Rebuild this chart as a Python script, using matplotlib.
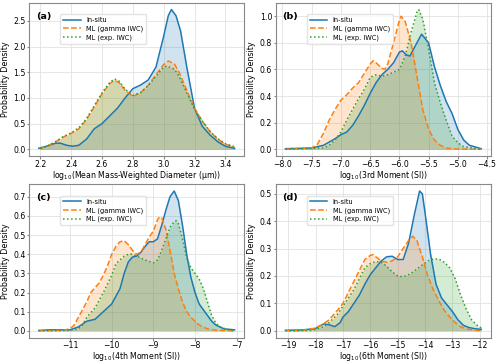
import numpy as np
import matplotlib
matplotlib.use("Agg")
from matplotlib import pyplot as plt

# ---- values (x, density) ----
# (a) mean mass-weighted diameter
a_insitu_x = [2.19, 2.25, 2.3, 2.33, 2.37, 2.41, 2.45, 2.5, 2.55, 2.6, 2.65, 2.7, 2.75, 2.8, 2.85, 2.9,
              2.95, 3.0, 3.03, 3.05, 3.08, 3.11, 3.15, 3.2, 3.25, 3.3, 3.35, 3.4, 3.46]
a_insitu_y = [0.02, 0.07, 0.12, 0.12, 0.08, 0.06, 0.08, 0.2, 0.4, 0.5, 0.65, 0.8, 1.0, 1.18, 1.25, 1.35,
              1.6, 2.2, 2.6, 2.72, 2.6, 2.3, 1.6, 0.8, 0.45, 0.28, 0.15, 0.06, 0.02]
a_gamma_x = [2.2, 2.25, 2.3, 2.35, 2.4, 2.45, 2.5, 2.55, 2.6, 2.65, 2.68, 2.71, 2.75, 2.8, 2.85, 2.9,
             2.95, 3.0, 3.03, 3.07, 3.1, 3.15, 3.2, 3.25, 3.3, 3.35, 3.4, 3.46]
a_gamma_y = [0.01, 0.07, 0.15, 0.24, 0.31, 0.4, 0.58, 0.83, 1.08, 1.28, 1.34, 1.3, 1.15, 1.03, 1.1, 1.25,
             1.45, 1.65, 1.72, 1.66, 1.5, 1.15, 0.8, 0.55, 0.35, 0.2, 0.1, 0.04]
a_exp_x = [2.2, 2.25, 2.3, 2.35, 2.4, 2.45, 2.5, 2.55, 2.6, 2.65, 2.68, 2.71, 2.75, 2.8, 2.85, 2.9,
           2.95, 3.0, 3.02, 3.07, 3.1, 3.15, 3.2, 3.25, 3.3, 3.35, 3.4, 3.46]
a_exp_y = [0.01, 0.07, 0.15, 0.25, 0.32, 0.42, 0.6, 0.85, 1.1, 1.3, 1.37, 1.33, 1.17, 1.05, 1.1, 1.24,
           1.42, 1.6, 1.62, 1.56, 1.42, 1.1, 0.78, 0.55, 0.35, 0.21, 0.11, 0.05]

# (b) 3rd moment
b_insitu_x = [-7.95, -7.5, -7.3, -7.1, -7.0, -6.9, -6.8, -6.7, -6.6, -6.5, -6.4, -6.3, -6.2, -6.1, -6.0,
              -5.95, -5.88, -5.82, -5.7, -5.62, -5.5, -5.4, -5.3, -5.2, -5.1, -5.0, -4.9, -4.8, -4.6]
b_insitu_y = [0.005, 0.01, 0.03, 0.08, 0.11, 0.13, 0.18, 0.25, 0.33, 0.42, 0.5, 0.56, 0.6, 0.65, 0.73,
              0.74, 0.71, 0.7, 0.8, 0.865, 0.8, 0.62, 0.48, 0.36, 0.27, 0.15, 0.07, 0.03, 0.005]
b_gamma_x = [-7.95, -7.5, -7.4, -7.3, -7.2, -7.1, -7.0, -6.9, -6.8, -6.7, -6.6, -6.5, -6.45, -6.4, -6.3,
             -6.25, -6.2, -6.1, -6.0, -5.97, -5.9, -5.8, -5.7, -5.6, -5.5, -5.4, -5.3, -5.2, -5.0, -4.6]
b_gamma_y = [0.0, 0.01, 0.04, 0.12, 0.22, 0.3, 0.37, 0.41, 0.46, 0.5, 0.57, 0.64, 0.665, 0.65, 0.61,
             0.6, 0.64, 0.8, 0.97, 1.0, 0.96, 0.8, 0.55, 0.3, 0.15, 0.07, 0.03, 0.01, 0.002, 0.0]
b_exp_x = [-7.95, -7.3, -7.2, -7.1, -7.0, -6.9, -6.8, -6.7, -6.6, -6.5, -6.4, -6.3, -6.2, -6.1, -6.0,
           -5.9, -5.8, -5.7, -5.67, -5.6, -5.5, -5.4, -5.3, -5.2, -5.1, -5.0, -4.9, -4.6]
b_exp_y = [0.0, 0.01, 0.03, 0.07, 0.13, 0.22, 0.3, 0.38, 0.45, 0.54, 0.56, 0.55, 0.56, 0.58, 0.6,
           0.7, 0.88, 1.03, 1.05, 0.98, 0.75, 0.5, 0.35, 0.22, 0.1, 0.05, 0.02, 0.0]

# (c) 4th moment
c_insitu_x = [-11.75, -11.5, -11.0, -10.8, -10.6, -10.5, -10.4, -10.2, -10.0, -9.9, -9.8, -9.7, -9.6,
              -9.5, -9.4, -9.3, -9.2, -9.1, -9.0, -8.9, -8.8, -8.7, -8.6, -8.5, -8.4, -8.3, -8.2, -8.1,
              -8.0, -7.9, -7.8, -7.7, -7.6, -7.5, -7.3, -7.05]
c_insitu_y = [0.002, 0.005, 0.005, 0.02, 0.05, 0.055, 0.06, 0.1, 0.14, 0.18, 0.22, 0.3, 0.36,
              0.385, 0.39, 0.41, 0.44, 0.465, 0.465, 0.48, 0.55, 0.63, 0.7, 0.73, 0.68, 0.55, 0.4, 0.28,
              0.2, 0.14, 0.11, 0.08, 0.05, 0.03, 0.01, 0.005]
c_gamma_x = [-11.75, -11.2, -11.0, -10.9, -10.8, -10.6, -10.5, -10.3, -10.2, -10.1, -10.0, -9.9, -9.8,
             -9.7, -9.6, -9.5, -9.4, -9.3, -9.2, -9.1, -9.0, -8.9, -8.85, -8.8, -8.7, -8.6, -8.5, -8.4,
             -8.3, -8.2, -8.1, -8.0, -7.9, -7.7, -7.5, -7.05]
c_gamma_y = [0.0, 0.002, 0.01, 0.03, 0.07, 0.15, 0.2, 0.25, 0.29, 0.34, 0.4, 0.44, 0.465,
             0.47, 0.45, 0.42, 0.4, 0.41, 0.45, 0.49, 0.52, 0.58, 0.595, 0.59, 0.53, 0.42, 0.3, 0.22,
             0.15, 0.1, 0.07, 0.05, 0.03, 0.01, 0.003, 0.0]
c_exp_x = [-11.75, -11.0, -10.8, -10.7, -10.6, -10.4, -10.2, -10.0, -9.9, -9.8, -9.7, -9.6, -9.5, -9.4,
           -9.2, -9.0, -8.9, -8.8, -8.7, -8.6, -8.5, -8.45, -8.4, -8.3, -8.2, -8.1, -8.0, -7.9, -7.8,
           -7.7, -7.6, -7.5, -7.4, -7.2, -7.05]
c_exp_y = [0.0, 0.002, 0.01, 0.03, 0.07, 0.12, 0.2, 0.29, 0.35, 0.37, 0.39, 0.4, 0.4, 0.39,
           0.37, 0.355, 0.37, 0.42, 0.48, 0.54, 0.57, 0.575, 0.56, 0.48, 0.38, 0.33, 0.3, 0.27, 0.22,
           0.15, 0.08, 0.04, 0.02, 0.005, 0.0]

# (d) 6th moment
d_insitu_x = [-19.1, -18.5, -18.0, -17.9, -17.7, -17.5, -17.3, -17.1, -17.0, -16.8, -16.6, -16.4, -16.2,
              -16.0, -15.8, -15.6, -15.4, -15.2, -15.0, -14.8, -14.6, -14.4, -14.2, -14.1, -14.0, -13.8,
              -13.6, -13.4, -13.2, -13.0, -12.8, -12.6, -12.4, -12.2, -11.95]
d_insitu_y = [0.002, 0.003, 0.008, 0.015, 0.025, 0.022, 0.015, 0.03, 0.05, 0.07, 0.1, 0.13, 0.17,
              0.205, 0.23, 0.255, 0.27, 0.272, 0.26, 0.26, 0.32, 0.42, 0.51, 0.5, 0.43, 0.28,
              0.17, 0.12, 0.095, 0.07, 0.04, 0.02, 0.012, 0.008, 0.005]
d_gamma_x = [-19.1, -18.5, -18.0, -17.8, -17.5, -17.2, -17.0, -16.8, -16.6, -16.4, -16.2, -16.0, -15.9,
             -15.8, -15.6, -15.4, -15.2, -15.0, -14.8, -14.6, -14.45, -14.3, -14.1, -13.9, -13.7, -13.5,
             -13.3, -13.1, -12.9, -12.7, -12.5, -12.2, -11.95]
d_gamma_y = [0.0, 0.001, 0.01, 0.02, 0.04, 0.075, 0.1, 0.14, 0.18, 0.22, 0.26, 0.275, 0.278,
             0.27, 0.255, 0.25, 0.255, 0.27, 0.3, 0.33, 0.345, 0.33, 0.27, 0.2, 0.15, 0.11,
             0.075, 0.05, 0.03, 0.015, 0.007, 0.002, 0.0]
d_exp_x = [-19.1, -18.2, -18.0, -17.7, -17.5, -17.2, -17.0, -16.8, -16.6, -16.4, -16.2, -16.0, -15.8,
           -15.6, -15.4, -15.2, -15.0, -14.9, -14.7, -14.5, -14.3, -14.1, -13.9, -13.7, -13.5, -13.3,
           -13.1, -12.9, -12.7, -12.5, -12.3, -12.1, -11.95]
d_exp_y = [0.0, 0.001, 0.005, 0.015, 0.03, 0.06, 0.09, 0.12, 0.15, 0.19, 0.23, 0.245, 0.253,
           0.25, 0.235, 0.215, 0.2, 0.198, 0.2, 0.21, 0.225, 0.24, 0.255, 0.262, 0.262, 0.25,
           0.23, 0.19, 0.13, 0.08, 0.04, 0.02, 0.01]

panel_tags = ["(a)", "(b)", "(c)", "(d)"]
xlabels = [r"log$_{10}$(Mean Mass-Weighted Diameter (μm))",
           r"log$_{10}$(3rd Moment (SI))",
           r"log$_{10}$(4th Moment (SI))",
           r"log$_{10}$(6th Moment (SI))"]
series_names = ["In-situ", "ML (gamma IWC)", "ML (exp. IWC)"]

panels = [
    [(a_insitu_x, a_insitu_y), (a_gamma_x, a_gamma_y), (a_exp_x, a_exp_y)],
    [(b_insitu_x, b_insitu_y), (b_gamma_x, b_gamma_y), (b_exp_x, b_exp_y)],
    [(c_insitu_x, c_insitu_y), (c_gamma_x, c_gamma_y), (c_exp_x, c_exp_y)],
    [(d_insitu_x, d_insitu_y), (d_gamma_x, d_gamma_y), (d_exp_x, d_exp_y)],
]
xticks = [[2.2, 2.4, 2.6, 2.8, 3.0, 3.2, 3.4],
          [-8.0, -7.5, -7.0, -6.5, -6.0, -5.5, -5.0, -4.5],
          [-11, -10, -9, -8, -7],
          [-19, -18, -17, -16, -15, -14, -13, -12]]
xtick_fmt = ["{:.1f}", "{:.1f}", "{:d}", "{:d}"]

colors = ["#1f77b4", "#ff7f0e", "#2ca02c"]
styles = ["-", "--", ":"]

plt.rcParams["font.family"] = "DejaVu Sans"
plt.rcParams["font.size"] = 5.5

fig, axes = plt.subplots(2, 2, figsize=(5.0, 3.64), dpi=100)
fig.subplots_adjust(left=0.058, right=0.982, top=0.993, bottom=0.072, wspace=0.145, hspace=0.18)

for i, ax in enumerate(axes.flat):
    for j, (xs, ys) in enumerate(panels[i]):
        ax.fill_between(xs, ys, color=colors[j], alpha=0.2, lw=0)
        ax.plot(xs, ys, color=colors[j], ls=styles[j], lw=1.1, label=series_names[j])
    ax.set_xticks(xticks[i])
    ax.set_xticklabels([xtick_fmt[i].format(int(t) if xtick_fmt[i] == "{:d}" else t)
                        .replace("-", "\u2212") for t in xticks[i]])
    ax.set_xlabel(xlabels[i], fontsize=5.6, labelpad=0)
    ax.set_ylabel("Probability Density", fontsize=5.8, labelpad=2.5)
    ax.grid(True, color="#e2e2e2", lw=0.6)
    ax.set_axisbelow(True)
    for s in ax.spines.values():
        s.set_color("#888888")
    ax.tick_params(length=1.8, pad=0.8, labelsize=5.6, color="#888888")
    ax.text(0.032, 0.94, panel_tags[i], transform=ax.transAxes, fontweight="bold",
            fontsize=6.8, va="top", ha="left")
    ax.legend(loc="upper left", bbox_to_anchor=(0.13, 0.945), fontsize=4.8,
              handlelength=2.6, borderpad=0.45, labelspacing=0.35, framealpha=0.8,
              edgecolor="#dddddd")

fig.savefig("out.png", dpi=100)
